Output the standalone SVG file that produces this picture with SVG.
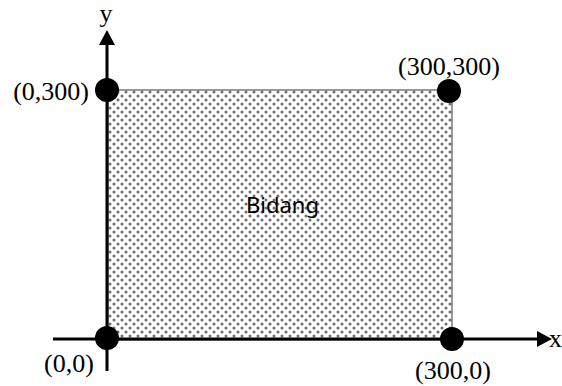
<svg xmlns="http://www.w3.org/2000/svg" width="562" height="386" viewBox="0 0 562 386">
<style>
.lbl{font-family:"Liberation Serif","Times New Roman",serif;font-size:26px;fill:#000}
.axis{stroke:#000;stroke-width:3;fill:none}
.pt{fill:#000}
.title{font-family:"Noto Sans","Open Sans",sans-serif;font-size:22px;fill:#000}
</style>
<defs>
<pattern id="dots" x="108" y="90" width="8" height="8" patternUnits="userSpaceOnUse">
<rect width="8" height="8" fill="#fff"/>
<circle cx="2" cy="2" r="1.5" fill="#6e6e6e"/>
<circle cx="6" cy="6" r="1.5" fill="#6e6e6e"/>
</pattern>
</defs>
<g id="plane">
<rect x="108" y="90" width="344" height="250" fill="url(#dots)" stroke="#555" stroke-width="1.2"/>
<text class="title" x="246" y="213">Bidang</text>
</g>
<g id="connectors">
<line class="axis" x1="107" y1="371" x2="107" y2="42"/>
<polygon points="107,30 99,45 115,45" fill="#000"/>
<line class="axis" x1="53" y1="339" x2="540" y2="339"/>
<polygon points="552,339 537,331 537,347" fill="#000"/>
</g>
<g id="axis-y"><text class="lbl" x="106" y="22" text-anchor="middle">y</text></g>
<g id="axis-x"><text class="lbl" x="549" y="347">x</text></g>
<g id="p0300"><circle class="pt" cx="107" cy="90" r="12"/><text class="lbl" x="89" y="100" text-anchor="end">(0,300)</text></g>
<g id="p300300"><circle class="pt" cx="449" cy="91" r="12"/><text class="lbl" x="398" y="75">(300,300)</text></g>
<g id="p00"><circle class="pt" cx="107" cy="338" r="12"/><text class="lbl" x="44" y="372">(0,0)</text></g>
<g id="p3000"><circle class="pt" cx="452" cy="339" r="12"/><text class="lbl" x="415" y="379">(300,0)</text></g>
</svg>
